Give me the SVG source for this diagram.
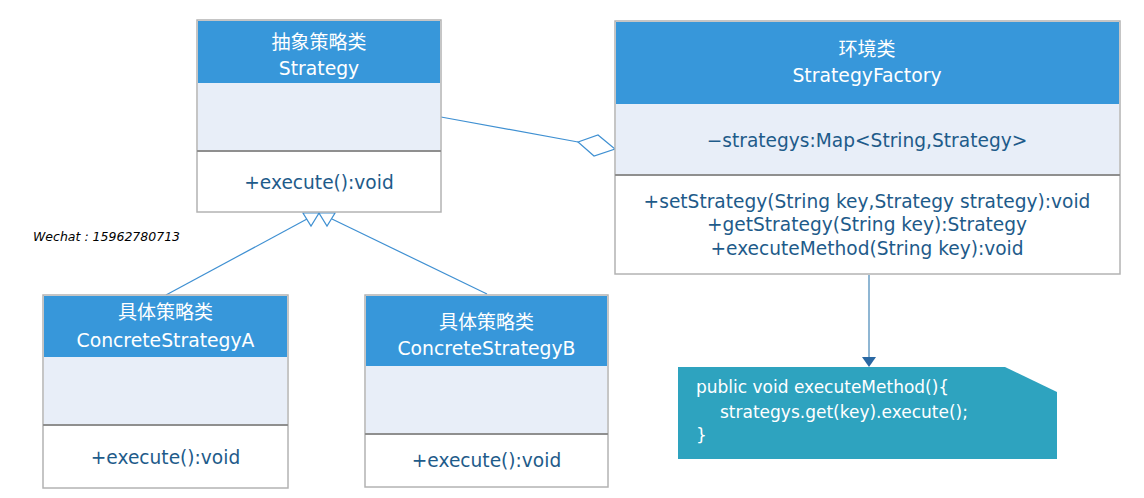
<svg xmlns="http://www.w3.org/2000/svg" width="1144" height="498" viewBox="0 0 1144 498">
<style>
.box{fill:#ffffff;stroke:#b3b3b3;stroke-width:1.5}
.hdr{fill:#3797da}
.attr{fill:#e8eef8}
.div{stroke:#8f8f8f;stroke-width:2}
.ht{font-family:"DejaVu Sans","Noto Sans CJK SC",sans-serif;font-size:18.8px;fill:#ffffff;text-anchor:middle}
.cj{font-family:"Noto Sans CJK SC",sans-serif;font-size:19px;fill:#ffffff;text-anchor:middle}
.mt{font-family:"DejaVu Sans",sans-serif;font-size:18.6px;fill:#1e5b8a;text-anchor:middle}
.con{fill:none;stroke:#3f90d2;stroke-width:1.2}
.nt{font-family:"DejaVu Sans",sans-serif;font-size:17px;fill:#ffffff}
</style>
<rect width="1144" height="498" fill="#ffffff"/>
<g id="connectors">
  <line class="con" x1="441" y1="117" x2="578" y2="142"/>
  <polygon class="con" points="578,142 598,135 615,149 594,156" fill="#ffffff"/>
  <line class="con" x1="166" y1="295" x2="307" y2="219"/>
  <line class="con" x1="487" y1="294" x2="332" y2="219"/>
  <polygon class="con" points="303,213 319,213 311,226" fill="#ffffff"/>
  <polygon class="con" points="319,213 335,213 327,226" fill="#ffffff"/>
  <line x1="869" y1="275" x2="869" y2="358" stroke="#8fb6d3" stroke-width="2"/>
  <polygon points="862,357 876,357 869,367" fill="#2a68a3"/>
</g>
<g id="strategy">
  <rect class="box" x="197" y="20" width="244" height="192"/>
  <rect class="hdr" x="198" y="21" width="242" height="62"/>
  <rect class="attr" x="198" y="83" width="242" height="68"/>
  <line class="div" x1="197" y1="151" x2="441" y2="151"/>
  <text class="cj" x="319" y="49">抽象策略类</text>
  <text class="ht" x="319" y="75">Strategy</text>
  <text class="mt" x="319" y="189">+execute():void</text>
</g>
<g id="strategyFactory">
  <rect class="box" x="615" y="21" width="505" height="253"/>
  <rect class="hdr" x="616" y="22" width="503" height="82"/>
  <rect class="attr" x="616" y="104" width="503" height="71"/>
  <line class="div" x1="615" y1="175" x2="1120" y2="175"/>
  <text class="cj" x="867" y="56">环境类</text>
  <text class="ht" x="867" y="82">StrategyFactory</text>
  <text class="mt" x="867" y="147">−strategys:Map&lt;String,Strategy&gt;</text>
  <text class="mt" x="867" y="208">+setStrategy(String key,Strategy strategy):void</text>
  <text class="mt" x="867" y="231">+getStrategy(String key):Strategy</text>
  <text class="mt" x="867" y="255">+executeMethod(String key):void</text>
</g>
<g id="concreteA">
  <rect class="box" x="43" y="295" width="245" height="193"/>
  <rect class="hdr" x="44" y="296" width="243" height="61"/>
  <rect class="attr" x="44" y="357" width="243" height="68"/>
  <line class="div" x1="43" y1="425" x2="288" y2="425"/>
  <text class="cj" x="165.5" y="319">具体策略类</text>
  <text class="ht" x="165.5" y="347">ConcreteStrategyA</text>
  <text class="mt" x="165.5" y="464">+execute():void</text>
</g>
<g id="concreteB">
  <rect class="box" x="365" y="295" width="243" height="192"/>
  <rect class="hdr" x="366" y="296" width="241" height="70"/>
  <rect class="attr" x="366" y="366" width="241" height="68"/>
  <line class="div" x1="365" y1="434" x2="608" y2="434"/>
  <text class="cj" x="486.5" y="329">具体策略类</text>
  <text class="ht" x="486.5" y="355">ConcreteStrategyB</text>
  <text class="mt" x="486.5" y="467">+execute():void</text>
</g>
<g id="note">
  <polygon points="678,367 1005,367 1057,392 1057,459 678,459" fill="#2ea3bf"/>
  <text class="nt" x="696" y="393">public void executeMethod(){</text>
  <text class="nt" x="720" y="418">strategys.get(key).execute();</text>
  <text class="nt" x="696" y="441">}</text>
</g>
<g id="watermark">
  <text x="33" y="241" font-family="DejaVu Sans, sans-serif" font-style="italic" font-size="12.5" fill="#000000">Wechat : 15962780713</text>
</g>
</svg>
